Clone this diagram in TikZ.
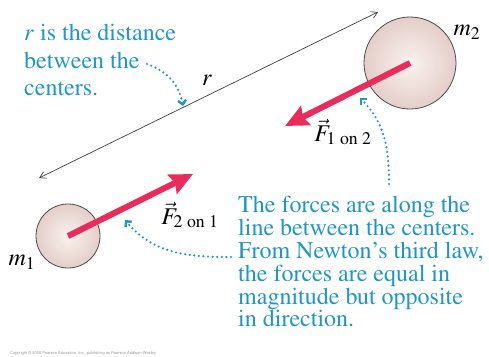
\documentclass[tikz,border=0pt]{standalone}
\usepackage[T1]{fontenc}
\usepackage{amsmath}
\usepackage{mathptmx}
\renewcommand{\familydefault}{\rmdefault}
\usetikzlibrary{arrows.meta}
\definecolor{forcered}{RGB}{232,44,92}
\definecolor{notecyan}{RGB}{32,150,200}
\definecolor{ballpink}{RGB}{228,206,201}
\definecolor{ballhi}{RGB}{250,242,238}

\begin{document}
\begin{tikzpicture}[>=Latex,x=1pt,y=-1pt,
  ball/.style={circle,draw=black!70,line width=0.8pt,inner color=ballhi,outer color=ballpink,inner sep=0pt},
  force/.style={forcered,line width=6pt,-{Stealth[length=23pt,width=21pt,inset=3pt]}},
  hint/.style={notecyan,line width=2.4pt,line cap=round,dash pattern=on 0pt off 4.6pt,-{Straight Barb[length=4pt,width=8pt]}},
  note/.style={notecyan,align=left,inner sep=0pt,anchor=north west},
  lab/.style={font=\rmfamily\fontsize{24}{27}\selectfont,inner sep=0pt}]
  \fill[white] (0,0) rectangle (489,356);
  \useasboundingbox (0,0) rectangle (489,356);
  % separation line between the centers
  \coordinate (rA) at (39,178);
  \coordinate (rB) at (378,12);
  \draw[black!75,line width=0.7pt,{Straight Barb[length=6pt,width=7pt]}-{Straight Barb[length=6pt,width=7pt]}] (rA) -- (rB);
  \node[lab] (rlab) at (207,80) {$r$};
  % the two masses
  \node[ball,minimum size=64pt] (m1ball) at (68,236) {};
  \node[ball,minimum size=92pt] (m2ball) at (410,63) {};
  \node[lab] (m1lab) at (22,262) {$m_1$};
  \node[lab] (m2lab) at (467,32) {$m_2$};
  % forces
  \coordinate (f21tip) at (193,174);
  \coordinate (f12tip) at (285,126);
  \draw[force] (m1ball.center) -- (f21tip);
  \draw[force] (m2ball.center) -- (f12tip);
  \node[lab] (f21lab) at (190,215) {$\vec{F}_{\text{2 on 1}}$};
  \node[lab] (f12lab) at (343,132) {$\vec{F}_{\text{1 on 2}}$};
  % notes
  \node[note,font=\rmfamily\fontsize{24}{27.5}\selectfont] (rnote) at (24,24.5)
    {$r$ is the distance\\between the\\centers.};
  \node[note,font=\rmfamily\fontsize{24}{22.8}\selectfont] (lawnote) at (238,196.5)
    {The forces are along the\\line between the centers.\\From Newton's third law,\\the forces are equal in\\magnitude but opposite\\in direction.};
  \coordinate (hintA) at (147,64);
  \coordinate (hintAend) at (183,106);
  \coordinate (hintB) at (389,184);
  \coordinate (hintBend) at (360,98);
  \coordinate (hintC) at (231,257);
  \coordinate (hintCend) at (125,220);
  \draw[hint] (hintA) to[out=-20,in=100] (hintAend);
  \draw[hint] (hintB) to[out=90,in=-45] (hintBend);
  \draw[hint] (hintC) to[out=180,in=-50] (hintCend);
  \node[anchor=west,inner sep=0pt,text=black!40,font=\fontfamily{phv}\fontsize{4}{5}\selectfont] (credit) at (10,353)
    {Copyright \copyright{} 2008 Pearson Education, Inc., publishing as Pearson Addison-Wesley.};
\end{tikzpicture}
\end{document}
